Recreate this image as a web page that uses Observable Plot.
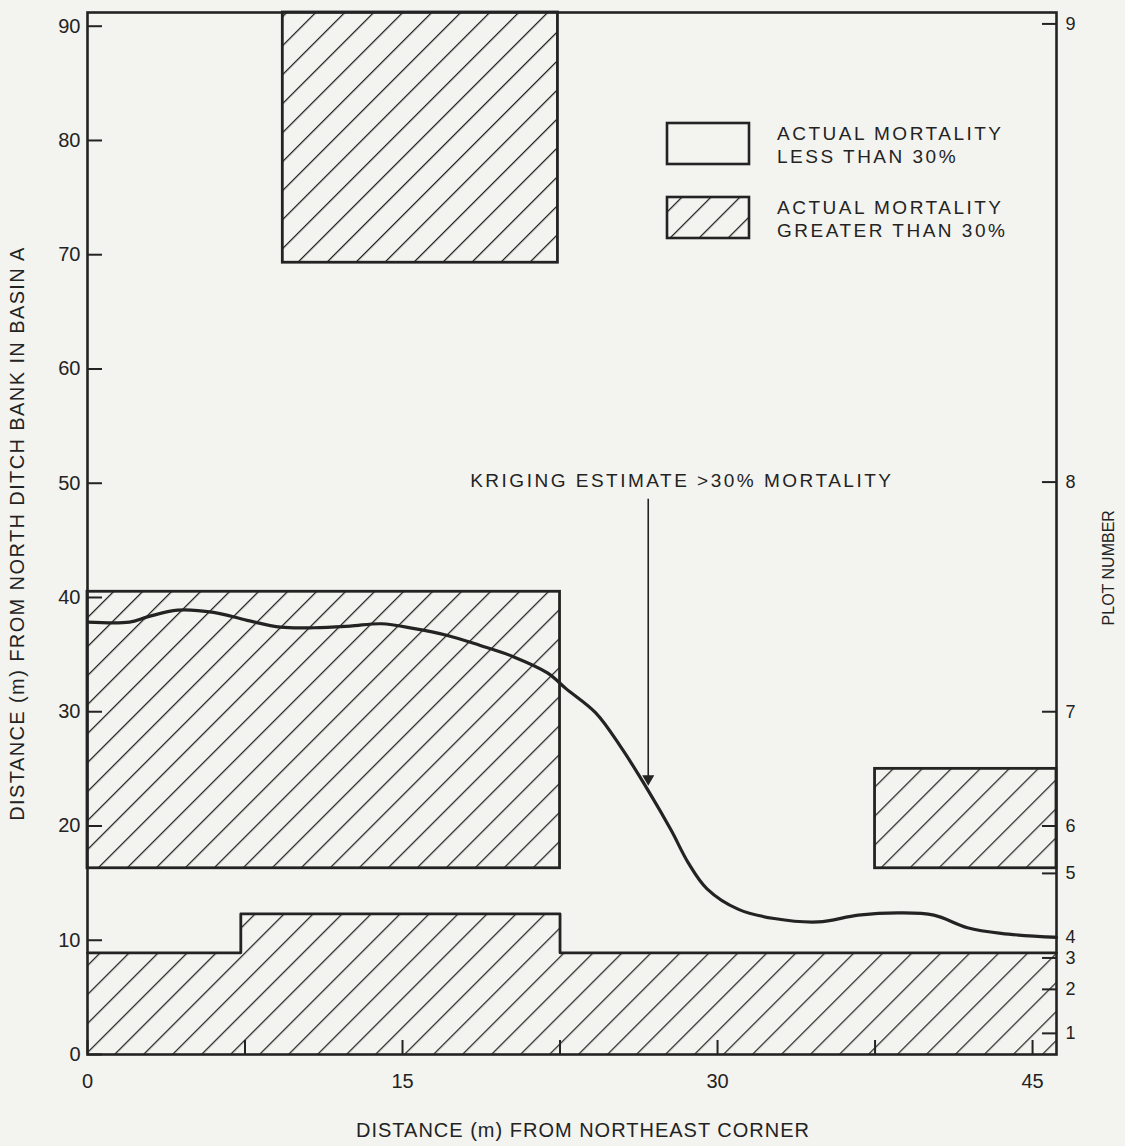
<!DOCTYPE html>
<html>
<head>
<meta charset="utf-8">
<script src="https://cdn.jsdelivr.net/npm/d3@7"></script>
<script src="https://cdn.jsdelivr.net/npm/@observablehq/plot@0.6"></script>
<style>
  html, body { margin: 0; padding: 0; background: #f3f3f0; }
  #wrap { position: relative; width: 1125px; height: 1146px; }
  #legend { position: absolute; left: 0; top: 0; }
</style>
</head>
<body>
<div id="wrap"></div>
<script>
// ---- Data ----
const xDomain = [0, 46.14];
const yDomain = [0, 91.2];

// Plots with actual mortality greater than 30% (hatched rectangles)
const hatchX1 = [9.3, 0, 37.5];
const hatchX2 = [22.4, 22.5, 46.14];
const hatchY1 = [69.3, 16.3, 16.3];
const hatchY2 = [91.2, 40.5, 25.0];

// Bottom stepped hatched band (plots 1-4)
const bandX = [0, 7.3, 22.5, 46.14];
const bandY = [8.9, 12.3, 8.9, 8.9];

// Kriging estimate >30% mortality boundary
const curveX = [0, 2.0, 2.85, 4.3, 6.0, 7.6, 9.2, 10.8, 12.5, 14.0, 15.5, 17.1, 18.7, 20.3, 21.9, 22.8, 24.2, 25.4, 26.7, 27.8, 28.6, 29.5, 31.0, 32.7, 34.8, 36.7, 38.7, 40.3, 41.9, 43.5, 46.14];
const curveY = [37.85, 37.85, 38.3, 38.9, 38.7, 38.0, 37.4, 37.35, 37.5, 37.7, 37.3, 36.7, 35.8, 34.8, 33.4, 32.0, 29.9, 26.9, 23.1, 19.6, 16.8, 14.5, 12.7, 11.9, 11.6, 12.2, 12.4, 12.2, 11.1, 10.6, 10.25];

// Annotation
const annoText = ["KRIGING ESTIMATE >30% MORTALITY"];
const annoTextX = [28.3];
const annoTextY = [50.2];
const arrowX = [26.7];
const arrowY1 = [48.6];
const arrowY2 = [23.7];

// Axes
const leftTicks = [0, 10, 20, 30, 40, 50, 60, 70, 80, 90];
const bottomTicks = [0, 7.5, 15, 22.5, 30, 37.5, 45];
const bottomLabels = ["0", "", "15", "", "30", "", "45"];
const plotTickY = [1.85, 5.7, 8.45, 10.3, 15.85, 20, 30, 50.1, 90.2];
const plotLabels = ["1", "2", "3", "4", "5", "6", "7", "8", "9"];
const rightTitle = ["PLOT NUMBER"];
const rightTitleY = [42.6];

const legendLabels = [["ACTUAL MORTALITY", "LESS THAN 30%"], ["ACTUAL MORTALITY", "GREATER THAN 30%"]];

// ---- Build tables ----
const hatchRects = hatchX1.map((d, i) => ({x1: d, x2: hatchX2[i], y1: hatchY1[i], y2: hatchY2[i]}));
const band = bandX.map((d, i) => ({x: d, y: bandY[i]}));
const curve = curveX.map((d, i) => ({x: d, y: curveY[i]}));
const anno = annoText.map((t, i) => ({t, x: annoTextX[i], y: annoTextY[i]}));
const arrows = arrowX.map((d, i) => ({x: d, y1: arrowY1[i], y2: arrowY2[i]}));
const rTitle = rightTitle.map((t, i) => ({t, y: rightTitleY[i]}));
const bottomLabelMap = new Map(bottomTicks.map((d, i) => [d, bottomLabels[i]]));
const plotLabelMap = new Map(plotTickY.map((d, i) => [d, plotLabels[i]]));

const ink = "#232323";
const font = "'Liberation Sans', Arial, sans-serif";

const chart = Plot.plot({
  width: 1125,
  height: 1146,
  marginLeft: 87,
  marginRight: 69,
  marginTop: 12,
  marginBottom: 92,
  x: {domain: xDomain},
  y: {domain: yDomain},
  style: {fontFamily: font, fontSize: "19px", background: "transparent", color: ink},
  marks: [
    Plot.areaY(band, {x: "x", y: "y", curve: "step-after", fill: "url(#hatch)"}),
    Plot.lineY(band, {x: "x", y: "y", curve: "step-after", stroke: ink, strokeWidth: 2.8}),
    Plot.rect(hatchRects, {x1: "x1", x2: "x2", y1: "y1", y2: "y2", fill: "url(#hatch)", stroke: ink, strokeWidth: 2.8}),
    Plot.line(curve, {x: "x", y: "y", curve: "catmull-rom", stroke: ink, strokeWidth: 3.2}),
    Plot.ruleX(arrows, {x: "x", y1: "y1", y2: "y2", stroke: ink, strokeWidth: 1.6}),
    Plot.dot(arrows, {x: "x", y: "y2", symbol: "triangle", rotate: 180, r: 4.5, fill: ink, stroke: "none", dy: -5}),
    Plot.text(anno, {x: "x", y: "y", text: "t", fontSize: 19, fill: ink}),
    Plot.frame({stroke: ink, strokeWidth: 2.6}),
    Plot.axisY(leftTicks, {anchor: "left", tickSize: -15, tickPadding: 22, fontSize: 20, stroke: ink, strokeWidth: 2,
      label: "DISTANCE (m) FROM NORTH DITCH BANK IN BASIN A", labelAnchor: "center", labelOffset: 78, labelArrow: "none"}),
    Plot.axisX(bottomTicks, {anchor: "bottom", tickSize: -14, tickPadding: 33, fontSize: 20, stroke: ink, strokeWidth: 2,
      tickFormat: d => bottomLabelMap.get(d),
      label: "DISTANCE (m) FROM NORTHEAST CORNER", labelAnchor: "center", labelOffset: 82, labelArrow: "none"}),
    Plot.axisY(plotTickY, {anchor: "right", tickSize: -15, tickPadding: 24, fontSize: 18, stroke: ink, strokeWidth: 2,
      tickFormat: d => plotLabelMap.get(d), label: null}),
    Plot.text(rTitle, {y: "y", text: "t", frameAnchor: "right", textAnchor: "middle", dx: 52, rotate: -90, fontSize: 16, fill: ink})
  ]
});

// Hatch pattern definition
const NS = "http://www.w3.org/2000/svg";
const defs = document.createElementNS(NS, "defs");
defs.innerHTML = `<pattern id="hatch" patternUnits="userSpaceOnUse" width="20.5" height="20.5" patternTransform="rotate(45) translate(6,0)">
  <line x1="0" y1="-2" x2="0" y2="23" stroke="${ink}" stroke-width="2.5"/></pattern>`;
chart.insertBefore(defs, chart.firstChild);

// Letter spacing for the wide lettering of the original
chart.querySelectorAll('g[aria-label="y-axis label"] text').forEach(t => { t.style.letterSpacing = "1.4px"; });
chart.querySelectorAll('g[aria-label="x-axis label"] text').forEach(t => { t.style.letterSpacing = "1.0px"; });
const xl = chart.querySelector('g[aria-label="x-axis label"]');
if (xl) xl.setAttribute("transform", ((xl.getAttribute("transform") || "") + " translate(11,0)").trim());
chart.querySelectorAll('g[aria-label="text"] text').forEach(t => {
  if (t.textContent.startsWith("KRIGING")) t.style.letterSpacing = "2.5px";
});

const wrap = document.getElementById("wrap");
wrap.appendChild(chart);

// Legend overlay (inside plot area, upper right)
const leg = document.createElementNS(NS, "svg");
leg.setAttribute("id", "legend");
leg.setAttribute("width", 1125);
leg.setAttribute("height", 300);
const fills = ["none", "url(#hatch)"];
const boxTop = [123, 197];
legendLabels.forEach((lines, i) => {
  const r = document.createElementNS(NS, "rect");
  r.setAttribute("x", 667); r.setAttribute("y", boxTop[i]);
  r.setAttribute("width", 82); r.setAttribute("height", 41);
  r.setAttribute("fill", fills[i]); r.setAttribute("stroke", ink); r.setAttribute("stroke-width", 2.6);
  leg.appendChild(r);
  lines.forEach((s, j) => {
    const t = document.createElementNS(NS, "text");
    t.setAttribute("x", 777);
    t.setAttribute("y", boxTop[i] + 17 + j * 23);
    t.setAttribute("font-family", font);
    t.setAttribute("font-size", 19);
    t.setAttribute("fill", ink);
    t.style.letterSpacing = "2.5px";
    t.textContent = s;
    leg.appendChild(t);
  });
});
wrap.appendChild(leg);
</script>
</body>
</html>
